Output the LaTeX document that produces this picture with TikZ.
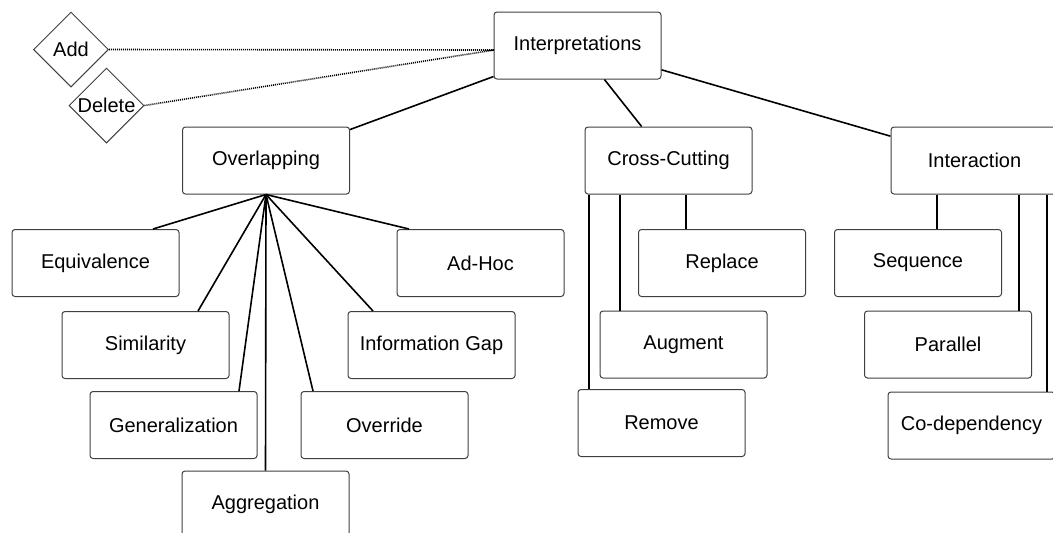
\documentclass[tikz,border=0pt]{standalone}
\usepackage{fontspec}
\setmainfont{Liberation Sans}
\usetikzlibrary{shapes.geometric, calc}

\begin{document}
\begin{tikzpicture}[
    x=0.5pt, y=-0.5pt,
    block/.style={rectangle, draw=black!75, line width=0.5pt, rounded corners=1.5pt, fill=white, minimum width=83.5pt, minimum height=33.5pt, inner sep=0pt, font=\fontsize{10}{12}\selectfont, align=center},
    decision/.style={diamond, draw=black!75, line width=0.5pt, fill=white, minimum width=37.5pt, minimum height=37.5pt, inner sep=0pt, label={[font=\fontsize{10}{12}\selectfont]center:#1}},
    link/.style={line width=0.8pt},
    dotlink/.style={line width=0.8pt, dash pattern=on 0.5pt off 0.5pt}
]
\useasboundingbox (0,0) rectangle (1053,532);
\clip (0,0) rectangle (1053,532);

% Root and its operations
\node[block] (interp) at (577.5,45.5) {Interpretations};
\node[decision=Add] (add) at (71,49.5) {};
\node[decision=Delete] (del) at (106.5,105.5) {};
\coordinate (dotend) at (494,50);

% Categories
\node[block] (overlap) at (266,160.5) {Overlapping};
\node[block] (cross) at (668.5,160.5) {Cross-Cutting};
\node[block] (inter) at (974.5,160.5) {Interaction};

% Overlapping kinds
\node[block] (equiv) at (95.5,263) {Equivalence};
\node[block] (simil) at (145.5,345) {Similarity};
\node[block] (gener) at (173.5,425) {Generalization};
\node[block] (aggr) at (265.5,504.5) {Aggregation};
\node[block] (overr) at (384.5,425) {Override};
\node[block] (infogap) at (431.5,345) {Information Gap};
\node[block] (adhoc) at (480.5,263) {Ad-Hoc};

% Cross-cutting kinds
\node[block] (replace) at (722,263) {Replace};
\node[block] (augment) at (683.5,344.5) {Augment};
\node[block] (remove) at (661.5,423) {Remove};

% Interaction kinds
\node[block] (sequence) at (918,263) {Sequence};
\node[block] (parallel) at (948,344.5) {Parallel};
\node[block] (codep) at (971.5,425.5) {Co-dependency};

% Dotted links
\draw[dotlink] (add.east) -- (dotend);
\draw[dotlink] (del.east) -- (dotend);

% Root links
\draw[link] (interp) -- (overlap);
\draw[link] (interp) -- (cross);
\draw[link] (interp) -- (inter);

% Overlapping links
\draw[link] (overlap.south) -- ($(equiv.north)+(57.5,0)$);
\draw[link] (overlap.south) -- ($(simil.north)+(52.5,0)$);
\draw[link] (overlap.south) -- ($(gener.north)+(65.5,0)$);
\draw[link] (overlap.south) -- (aggr.north);
\draw[link] (overlap.south) -- ($(overr.north)+(-71.5,0)$);
\draw[link] (overlap.south) -- ($(infogap.north)+(-58.5,0)$);
\draw[link] (overlap.south) -- ($(adhoc.north)+(-71.5,0)$);

% Cross-cutting links
\coordinate (cremove) at ($(cross.south)+(-79.5,0)$);
\coordinate (caugment) at ($(cross.south)+(-48.5,0)$);
\coordinate (creplace) at ($(cross.south)+(17.5,0)$);
\draw[link] (cremove) -- (cremove |- remove.north);
\draw[link] (caugment) -- (caugment |- augment.north);
\draw[link] (creplace) -- (creplace |- replace.north);

% Interaction links
\coordinate (isequence) at ($(inter.south)+(-37.5,0)$);
\coordinate (iparallel) at ($(inter.south)+(44.5,0)$);
\coordinate (icodep) at ($(inter.south)+(72.5,0)$);
\draw[link] (isequence) -- (isequence |- sequence.north);
\draw[link] (iparallel) -- (iparallel |- parallel.north);
\draw[link] (icodep) -- (icodep |- codep.north);

\end{tikzpicture}
\end{document}
